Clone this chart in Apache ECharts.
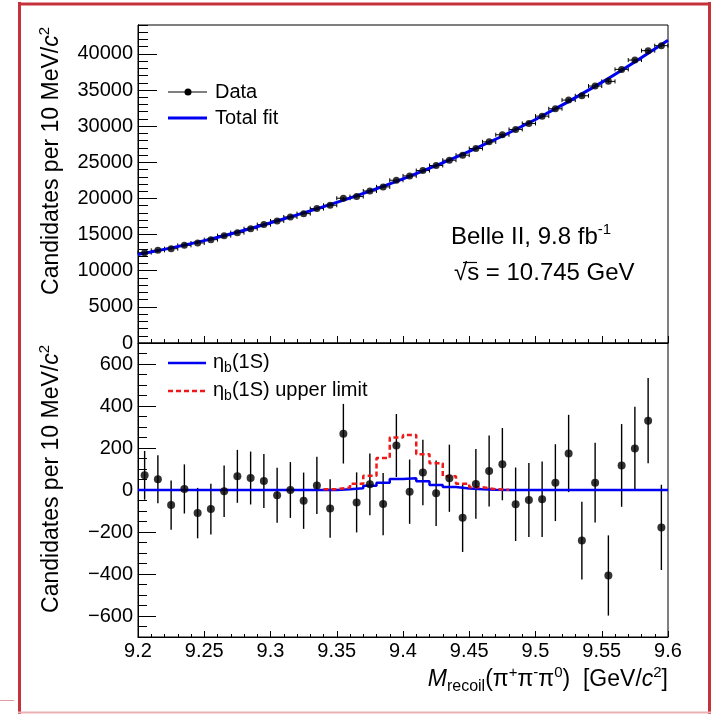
<!DOCTYPE html>
<html>
<head>
<meta charset="utf-8">
<script src="https://cdn.jsdelivr.net/npm/echarts@6/dist/echarts.min.js"></script>
<style>
  html, body { margin: 0; padding: 0; background: #fff; }
  #chart { width: 714px; height: 714px; }
</style>
</head>
<body>
<div id="chart"></div>
<script>
// Recoil mass bin centres (10 MeV bins) in GeV/c^2
const binCenters = [
  9.205, 9.215, 9.225, 9.235, 9.245, 9.255, 9.265, 9.275, 9.285, 9.295,
  9.305, 9.315, 9.325, 9.335, 9.345, 9.355, 9.365, 9.375, 9.385, 9.395,
  9.405, 9.415, 9.425, 9.435, 9.445, 9.455, 9.465, 9.475, 9.485, 9.495,
  9.505, 9.515, 9.525, 9.535, 9.545, 9.555, 9.565, 9.575, 9.585, 9.595
];
const binHalfWidth = 0.005;

// Candidates per bin
const candidates = [
  12500, 12820, 13050, 13510, 13840, 14300, 14850, 15270, 15820, 16380,
  16890, 17440, 17900, 18600, 19060, 20030, 20260, 21040, 21600, 22520,
  23120, 23860, 24560, 25290, 25990, 26910, 27830, 28810, 29550, 30380,
  31390, 32410, 33610, 34210, 35550, 36200, 37860, 39150, 40450, 41140
];

// Statistical uncertainty per bin
const errors = [
  116, 114, 117, 117, 120, 121, 123, 126, 126, 129,
  131, 133, 134, 136, 139, 142, 143, 147, 148, 150,
  153, 156, 156, 160, 163, 166, 169, 172, 175, 176,
  180, 183, 184, 185, 190, 191, 197, 198, 203, 203
];

// Background-subtracted candidates per bin
const residuals = [
  70, 51, -72, 5, -110, -91, -6, 65, 57, 43,
  -25, 0, -51, 22, -88, 268, -59, 27, -67, 212,
  -8, 83, -16, 56, -132, 29, 91, 123, -68, -48,
  -44, 35, 174, -241, 35, -407, 117, 198, 330, -178
];

// Total fit curve
const fitMass   = [9.20, 9.25, 9.30, 9.35, 9.40, 9.45, 9.50, 9.55, 9.60];
const fitValues = [12250, 14170, 16630, 19450, 22720, 26500, 30930, 36060, 41900];

// eta_b(1S) fitted component and its upper-limit yield, per bin
const etaB = [
  0, 0, 0, 0, 0, 0, 0, 0, 0, 0,
  0, 0, 0, 0, 0, 3, 8, 20, 35, 52,
  56, 42, 24, 14, 7, 3, 1, 0, 0, 0,
  0, 0, 0, 0, 0, 0, 0, 0, 0, 0
];
const etaBUpper = [
  0, 0, 0, 0, 0, 0, 0, 0, 0, 0,
  0, 0, 0, 0, 4, 12, 30, 68, 152, 250,
  262, 170, 127, 65, 30, 13, 4, 1, 0, 0,
  0, 0, 0, 0, 0, 0, 0, 0, 0, 0
];

// Axis ranges and tick spacing
const massRange = [9.2, 9.6];
const massTickStep = 0.05;
const massMinorStep = 0.01;
const topRange = [0, 44000];
const topTickStep = 5000;
const topMinorStep = 1000;
const bottomRange = [-700, 700];
const bottomTickStep = 200;
const bottomMinorStep = 50;

const FONT = "'Liberation Sans', Arial, Helvetica, sans-serif";
const BLUE = '#0000f0';
const RED = '#ee1a1a';
const FRAME_RED = '#c6323b';

const chart = echarts.init(document.getElementById('chart'), null, { renderer: 'canvas' });

const candPoints = binCenters.map((m, i) => [m, candidates[i], errors[i]]);
const residPoints = binCenters.map((m, i) => [m, residuals[i], errors[i]]);

// histogram outline: value held across each bin
function stepData(vals, from, to) {
  const d = [];
  for (let i = from; i <= to; i++) d.push([binCenters[i] - binHalfWidth, vals[i]]);
  d.push([binCenters[to] + binHalfWidth, vals[to]]);
  return d;
}
function nonZeroSpan(vals) {
  let a = vals.findIndex(v => v !== 0);
  let b = vals.length - 1;
  while (b > a && vals[b] === 0) b--;
  return [a, b];
}
const upperSpan = nonZeroSpan(etaBUpper);

const minus = v => String(v).replace('-', '\u2212');

function massAxis(gridIndex, showLabels, majorLen, minorLen) {
  return {
    type: 'value', gridIndex, position: 'bottom',
    min: massRange[0], max: massRange[1], interval: massTickStep,
    axisLine: { show: true, onZero: false, lineStyle: { color: '#000', width: 1 } },
    axisTick: { show: true, inside: true, length: majorLen, lineStyle: { color: '#000', width: 1 } },
    minorTick: { show: true, splitNumber: Math.round(massTickStep / massMinorStep), length: minorLen, lineStyle: { color: '#000', width: 1 } },
    splitLine: { show: false },
    axisLabel: {
      show: showLabels, color: '#000', fontFamily: FONT, fontSize: 20, margin: 4,
      formatter: v => String(+v.toFixed(2))
    }
  };
}

function countAxis(gridIndex, range, step, majorLen, labels) {
  const ax = {
    type: 'value', gridIndex, position: 'left', min: range[0], max: range[1],
    axisLine: { show: true, onZero: false, lineStyle: { color: '#000', width: 1 } },
    axisTick: { show: true, inside: true, length: majorLen, lineStyle: { color: '#000', width: 1 } },
    splitLine: { show: false },
    axisLabel: labels ? {
      show: true, color: '#000', fontFamily: FONT, fontSize: 20, margin: 5,
      showMinLabel: range[0] % step === 0, showMaxLabel: range[1] % step === 0,
      formatter: v => (Math.abs(v % step) < 1e-6 ? minus(v) : '')
    } : { show: false }
  };
  if (range[0] % step === 0) {
    ax.interval = step;
  } else {
    ax.minInterval = step; ax.maxInterval = step; ax.splitNumber = Math.round((range[1] - range[0]) / step);
  }
  return ax;
}

const errorBars = (xi, yi, data, withX) => ({
  type: 'custom', xAxisIndex: xi, yAxisIndex: yi, data, z: 3,
  renderItem: (params, api) => {
    const m = api.value(0), v = api.value(1), e = api.value(2);
    const st = { stroke: '#000', lineWidth: withX ? 1 : 1.4 };
    const t = api.coord([m, v + e]), b = api.coord([m, v - e]);
    const children = [{ type: 'line', shape: { x1: t[0], y1: t[1], x2: b[0], y2: b[1] }, style: st }];
    if (withX) {
      const l = api.coord([m - binHalfWidth, v]), r = api.coord([m + binHalfWidth, v]);
      children.push({ type: 'line', shape: { x1: l[0], y1: l[1], x2: r[0], y2: r[1] }, style: st });
      children.push({ type: 'line', shape: { x1: l[0], y1: l[1] - 2, x2: l[0], y2: l[1] + 2 }, style: st });
      children.push({ type: 'line', shape: { x1: r[0], y1: r[1] - 2, x2: r[0], y2: r[1] + 2 }, style: st });
    }
    return { type: 'group', children };
  }
});

const richBase = { fontFamily: FONT, fill: '#000' };
const titleRich = (size) => ({
  r: { fontSize: size, fontFamily: FONT, lineHeight: 30 },
  i: { fontSize: size, fontFamily: FONT, fontStyle: 'italic', lineHeight: 30 },
  sup: { fontSize: Math.round(size * 0.65), fontFamily: FONT, verticalAlign: 'top', lineHeight: 30 },
  sub: { fontSize: Math.round(size * 0.7), fontFamily: FONT, verticalAlign: 'bottom', lineHeight: 30 }
});

const yTitle = (x, yTop) => ({
  type: 'text', x, y: yTop, rotation: Math.PI / 2, z: 10,
  style: Object.assign({}, richBase, {
    text: '{r|Candidates per 10 MeV/}{i|c}{sup|2}',
    rich: titleRich(23),
    align: 'right', verticalAlign: 'middle'
  })
});

const legendText = (x, y, text) => ({
  type: 'text', x, y, z: 10,
  style: Object.assign({}, richBase, {
    text,
    rich: {
      r: { fontSize: 20, fontFamily: FONT, lineHeight: 26 },
      sub: { fontSize: 14, fontFamily: FONT, verticalAlign: 'bottom', lineHeight: 26 }
    },
    align: 'left', verticalAlign: 'middle'
  })
});

const option = {
  animation: false,
  backgroundColor: '#fff',
  grid: [
    { left: 138, top: 25, width: 530, height: 318, show: true, borderColor: '#000', borderWidth: 1, containLabel: false },
    { left: 138, top: 343, width: 530, height: 294, show: true, borderColor: '#000', borderWidth: 1, containLabel: false }
  ],
  xAxis: [
    massAxis(0, false, 7, 4),
    massAxis(1, true, 6, 3)
  ],
  yAxis: [
    countAxis(0, topRange, topTickStep, 19, true),
    countAxis(0, topRange, topMinorStep, 10, false),
    countAxis(1, bottomRange, bottomTickStep, 18, true),
    countAxis(1, bottomRange, bottomMinorStep, 9, false)
  ],
  series: [
    errorBars(0, 0, candPoints, true),
    {
      type: 'line', xAxisIndex: 0, yAxisIndex: 0, smooth: 0.4, symbol: 'none', z: 4,
      data: fitMass.map((m, i) => [m, fitValues[i]]),
      lineStyle: { color: BLUE, width: 3 }
    },
    {
      type: 'scatter', xAxisIndex: 0, yAxisIndex: 0, symbol: 'circle', symbolSize: 7, z: 5,
      data: candPoints.map(p => [p[0], p[1]]),
      itemStyle: { color: '#000' }
    },
    {
      type: 'line', xAxisIndex: 1, yAxisIndex: 2, step: 'end', symbol: 'none', z: 3,
      data: stepData(etaB, 0, etaB.length - 1),
      lineStyle: { color: BLUE, width: 2.5 }
    },
    {
      type: 'line', xAxisIndex: 1, yAxisIndex: 2, step: 'end', symbol: 'none', z: 3,
      data: stepData(etaBUpper, upperSpan[0], upperSpan[1]),
      lineStyle: { color: RED, width: 2.5, type: [5, 3] }
    },
    errorBars(1, 2, residPoints, false),
    {
      type: 'scatter', xAxisIndex: 1, yAxisIndex: 2, symbol: 'circle', symbolSize: 8, z: 5,
      data: residPoints.map(p => [p[0], p[1]]),
      itemStyle: { color: '#000' }
    }
  ],
  graphic: [
    // outer frame
    { type: 'line', z: 20, shape: { x1: 19.5, y1: 2, x2: 19.5, y2: 714 }, style: { stroke: FRAME_RED, lineWidth: 3 } },
    { type: 'line', z: 20, shape: { x1: 18, y1: 4, x2: 711, y2: 4 }, style: { stroke: FRAME_RED, lineWidth: 3 } },
    { type: 'line', z: 20, shape: { x1: 709.5, y1: 2, x2: 709.5, y2: 714 }, style: { stroke: FRAME_RED, lineWidth: 3 } },
    { type: 'line', z: 20, shape: { x1: 18, y1: 712.5, x2: 711, y2: 712.5 }, style: { stroke: '#eab0b4', lineWidth: 2 } },
    { type: 'line', z: 20, shape: { x1: 0, y1: 700.5, x2: 14, y2: 700.5 }, style: { stroke: '#e49a9e', lineWidth: 1 } },

    // axis titles
    yTitle(52, 27),
    yTitle(52, 345),
    {
      type: 'text', x: 668, y: 680, z: 10,
      style: Object.assign({}, richBase, {
        text: '{i|M}{sub|recoil}{r|(\u03c0}{sup|+}{r|\u03c0}{sup|-}{r|\u03c0}{sup|0}{r|)  [GeV/}{i|c}{sup|2}{r|]}',
        rich: titleRich(23),
        align: 'right', verticalAlign: 'middle'
      })
    },

    // top legend
    { type: 'line', z: 10, shape: { x1: 168, y1: 92, x2: 207, y2: 92 }, style: { stroke: '#000', lineWidth: 1 } },
    { type: 'circle', z: 10, shape: { cx: 188, cy: 92, r: 3.5 }, style: { fill: '#000' } },
    legendText(215, 92, '{r|Data}'),
    { type: 'line', z: 10, shape: { x1: 168, y1: 118, x2: 207, y2: 118 }, style: { stroke: BLUE, lineWidth: 3 } },
    legendText(215, 118, '{r|Total fit}'),

    // bottom legend
    { type: 'line', z: 10, shape: { x1: 168, y1: 363, x2: 206, y2: 363 }, style: { stroke: BLUE, lineWidth: 2.5 } },
    legendText(213, 362, '{r|\u03b7}{sub|b}{r|(1S)}'),
    { type: 'line', z: 10, shape: { x1: 168, y1: 391, x2: 206, y2: 391 }, style: { stroke: RED, lineWidth: 2.5, lineDash: [5, 3] } },
    legendText(213, 390, '{r|\u03b7}{sub|b}{r|(1S) upper limit}'),

    // experiment label
    {
      type: 'text', x: 451, y: 237, z: 10,
      style: Object.assign({}, richBase, {
        text: '{r|Belle II, 9.8 fb}{sup|-1}',
        rich: {
          r: { fontSize: 24, fontFamily: FONT, lineHeight: 30 },
          sup: { fontSize: 15, fontFamily: FONT, verticalAlign: 'top', lineHeight: 30 }
        },
        align: 'left', verticalAlign: 'middle'
      })
    },
    {
      type: 'text', x: 454, y: 273, z: 10,
      style: Object.assign({}, richBase, {
        text: '\u221as = 10.745 GeV',
        fontSize: 24, fontFamily: FONT,
        align: 'left', verticalAlign: 'middle'
      })
    },
    // bar of the square-root sign over "s"
    { type: 'line', z: 10, shape: { x1: 463, y1: 262.5, x2: 477, y2: 262.5 }, style: { stroke: '#000', lineWidth: 1.2 } }
  ]
};

chart.setOption(option);
</script>
</body>
</html>
